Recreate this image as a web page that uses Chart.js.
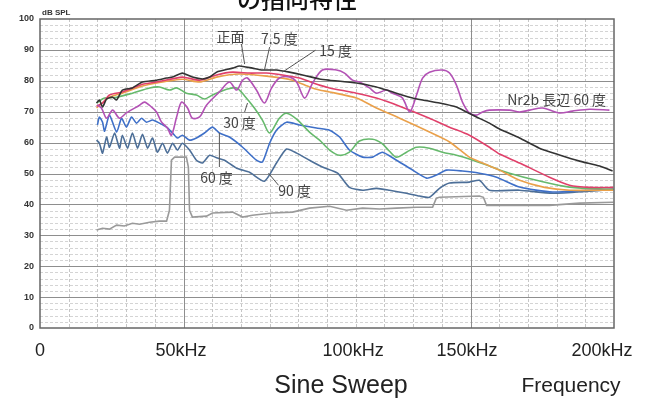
<!DOCTYPE html>
<html><head><meta charset="utf-8">
<script src="https://cdn.jsdelivr.net/npm/chart.js@4/dist/chart.umd.min.js"></script>
<style>html,body{margin:0;padding:0;background:#fff}#wrap{width:647px;height:398px}</style>
</head><body><div id="wrap"><canvas id="c" width="647" height="398"></canvas></div>
<script>
// ---- tick labels ----
const xTickValues = [0, 49.1, 109.1, 148.8, 195.8];
const xTickLabels = ['0', '50kHz', '100kHz', '150kHz', '200kHz'];
const yTickValues = [0, 10, 20, 30, 40, 50, 60, 70, 80, 90, 100];

// ---- 正面 ----
const fFront = [19.7,20.7,21.8,23.2,25.3,26.7,28.7,32.2,35.7,40.6,44.1,46.2,49.6,53.1,56.6,59.1,61.5,67.1,69.5,74.0,77.5,82.4,86.9,91.5,97.4,100.9,110.3,117.2,121.8,128.8,133.3,139.2,145.1,148.6,152.1,156.6,160.1,167.1,174.0,181.0,188.0,195.0,199.5];
const dbFront = [72.8,73.8,71.5,74.1,74.7,73.8,77.0,77.7,79.6,80.2,80.9,81.2,82.5,81.2,80.6,81.2,82.8,84.1,84.8,84.1,83.5,83.5,82.8,81.9,80.6,80.2,79.3,78.0,76.7,74.7,73.8,72.8,71.5,69.9,68.3,66.3,64.4,61.5,58.2,56.0,54.0,52.4,50.8];
// ---- 7.5度 ----
const f75 = [19.7,21.8,24.2,28.7,35.7,40.6,49.6,55.6,61.5,67.1,73.0,78.9,84.5,90.4,97.4,100.9,110.3,117.2,125.3,135.7,142.7,149.6,156.6,160.1,167.1,177.5,184.5,191.5,199.8];
const db75 = [71.8,72.8,75.4,76.4,78.9,79.6,81.2,80.2,81.9,82.8,82.5,82.5,81.9,80.9,78.6,77.7,76.0,74.4,71.8,67.9,65.0,62.4,58.5,56.3,53.4,48.8,46.2,45.5,45.5];
// ---- 15度 ----
const f15 = [19.7,24.2,28.7,35.7,40.6,49.6,55.6,61.5,69.5,78.9,88.0,93.9,97.4,100.9,110.3,117.2,125.3,135.7,142.7,149.6,154.2,160.1,167.1,175.8,184.5,199.8];
const db15 = [71.2,74.7,76.0,78.3,79.3,80.5,79.6,81.2,82.2,81.5,80.2,78.0,77.0,76.4,74.4,71.2,67.9,63.4,60.2,55.3,53.4,51.1,47.8,45.5,44.6,44.6];
// ---- 30度 ----
const f30 = [19.7,22.5,26.7,32.2,38.2,41.6,45.1,47.6,51.0,54.5,57.3,60.1,65.0,68.5,71.3,74.7,77.5,80.0,83.4,85.9,89.4,93.9,97.4,100.9,104.4,107.8,111.3,115.9,119.0,121.8,124.2,127.7,131.2,135.7,140.2,145.1,149.6,156.6,163.6,173.0,184.5,199.8];
const db30 = [72.8,74.4,74.7,76.0,77.7,78.0,77.0,77.7,76.0,75.4,74.1,75.4,77.3,77.7,75.1,71.2,67.3,63.1,67.9,69.5,67.6,63.4,60.8,57.6,55.9,56.9,60.5,61.1,59.8,57.2,55.3,56.9,58.5,58.2,56.9,55.9,54.7,52.4,50.1,47.8,45.6,44.9];
// ---- 60度 ----
const f60 = [20.0,20.7,21.8,22.5,24.2,26.7,28.4,30.1,31.9,33.6,35.4,37.1,39.2,41.6,44.1,46.2,47.9,49.6,52.1,54.5,57.3,60.1,62.5,66.0,70.6,75.4,77.5,80.0,82.4,85.9,90.4,96.3,100.9,104.4,107.8,112.4,115.9,119.3,124.2,128.8,134.7,138.1,141.6,147.2,153.1,159.1,167.1,178.6,190.4,199.8];
const db60 = [65.7,68.3,66.6,63.7,68.9,63.4,67.9,65.0,68.3,66.3,67.9,66.6,67.3,66.3,65.0,63.1,61.5,62.4,60.8,61.5,63.1,65.0,63.1,61.8,58.5,54.3,53.7,59.8,64.0,66.6,65.7,64.7,64.0,61.8,57.6,55.3,55.3,56.9,54.3,51.7,48.5,49.5,51.1,50.8,50.1,48.8,45.6,44.0,44.6,44.9];
// ---- 90度 ----
const f90 = [19.7,20.7,21.8,23.2,24.2,26.0,27.7,28.7,30.5,32.2,34.0,35.7,37.5,39.2,40.9,42.7,44.4,46.2,47.9,49.6,52.1,54.5,56.6,59.1,61.8,64.3,68.5,73.0,78.2,82.4,85.9,89.4,93.9,98.4,103.7,107.8,112.4,117.2,121.8,127.7,132.2,135.7,139.2,142.7,149.6,153.1,156.6,167.1,178.6,190.4,199.8];
const db90 = [60.8,59.8,56.6,61.8,58.5,63.1,58.2,62.4,58.2,63.1,58.2,62.7,58.2,61.5,56.9,59.8,56.6,59.8,57.6,59.8,57.6,54.3,53.4,55.9,55.0,54.3,51.7,50.4,47.5,53.4,57.9,56.6,54.3,52.1,50.1,45.5,44.6,45.2,44.6,43.6,42.7,42.3,45.2,46.9,47.2,47.8,44.6,44.6,43.6,44.2,44.9];
// ---- Nr2b 長辺 60度 ----
const fNr = [20.0,21.4,23.2,25.3,27.7,30.1,34.7,36.4,38.9,40.6,42.3,44.4,45.8,47.6,49.3,51.4,53.1,55.6,58.0,62.5,66.0,68.5,70.6,72.3,75.4,78.2,80.7,83.4,86.9,89.4,92.2,95.0,98.4,103.3,106.1,108.9,111.3,114.8,117.2,120.7,122.8,126.3,128.8,131.2,133.3,135.7,140.2,142.7,145.1,147.2,149.6,152.1,154.2,156.6,163.6,167.1,170.6,175.1,181.0,185.5,191.5,198.4];
const dbNr = [72.1,71.2,67.9,70.5,67.9,69.6,72.1,73.1,71.5,69.9,66.7,64.7,62.4,68.3,73.1,71.2,67.9,68.3,72.1,76.4,79.6,77.0,80.2,80.9,77.0,72.8,77.7,80.9,81.2,79.6,74.4,79.3,83.5,83.5,82.5,80.2,79.6,77.7,76.0,77.0,76.0,74.4,69.9,75.4,80.9,82.8,83.5,82.5,78.6,73.1,69.6,68.9,69.9,70.5,70.5,69.9,70.5,71.2,69.6,70.2,70.8,70.5];
// ---- floor (grey) ----
const fFloor = [19.7,21.8,24.2,26.7,29.4,32.2,34.7,38.2,41.6,44.1,45.1,45.8,46.9,51.0,51.7,52.1,53.1,58.0,60.1,67.1,70.6,74.0,81.0,88.0,93.9,100.9,106.8,112.4,118.3,124.2,131.2,136.8,138.1,139.2,153.1,154.5,155.6,167.1,177.5,188.0,199.8];
const dbFloor = [31.7,32.3,32.0,33.3,33.0,33.9,33.6,34.2,34.6,34.6,38.1,54.3,55.3,55.3,52.1,38.1,35.9,36.2,37.2,37.5,35.9,36.5,37.2,37.5,38.8,39.4,38.1,38.8,38.5,38.8,39.1,39.1,42.0,42.3,42.7,42.3,39.7,39.7,39.7,40.4,40.7];

// ---- annotation labels (data coords) ----
const noteTexts = ['正面', '7.5 度', '15 度', '30 度', '60 度', '90 度', 'Nr2b 長辺 60 度'];
const notePos = [[66.4,94.2],[83.4,93.5],[103.0,89.6],[69.5,66.3],[61.5,48.8],[88.7,44.3],[180.0,73.8]];
const leaderLines = [[[70.2,91.9],[71.3,85.4]],[[80.0,90.9],[78.2,83.5]],[[96.0,89.9],[84.5,82.8]],[[71.3,69.9],[72.3,72.8]],[[62.5,52.1],[62.5,63.1]],[[83.1,46.2],[79.6,50.1]]];

const pts = (f, d) => f.map((v, i) => ({x: v, y: d[i]}));
const ds = (label, f, d, color, tension) => ({label, data: pts(f, d), borderColor: color, borderWidth: 1.6, pointRadius: 0, tension: tension, fill: false});

const deco = {
  id: 'deco',
  beforeDraw(chart) {
    const c = chart.ctx; c.save(); c.fillStyle = '#fff'; c.fillRect(0, 0, chart.width, chart.height); c.restore();
  },
  beforeDatasetsDraw(chart) {
    const {ctx: c, chartArea: a, scales: {x, y}} = chart;
    const hl = (py) => { py = Math.round(py) + 0.5; c.beginPath(); c.moveTo(a.left, py); c.lineTo(a.right, py); c.stroke(); };
    const vl = (px) => { px = Math.round(px) + 0.5; c.beginPath(); c.moveTo(px, a.top); c.lineTo(px, a.bottom); c.stroke(); };
    c.save(); c.lineWidth = 1;
    c.setLineDash([3, 2]); c.strokeStyle = '#d4d4d4';
    for (let v = 2; v < 100; v += 2) { if (v % 10) hl(y.getPixelForValue(v)); }
    c.strokeStyle = '#c6c6c6';
    for (let v = 10; v < 200; v += 10) { if (v !== 50 && v !== 150) vl(x.getPixelForValue(v)); }
    c.setLineDash([]); c.strokeStyle = '#8e8e8e';
    for (let v = 10; v < 100; v += 10) hl(y.getPixelForValue(v));
    [50, 150].forEach(v => vl(x.getPixelForValue(v)));
    c.restore();
  },
  afterDatasetsDraw(chart) {
    const {ctx: c, chartArea: a, scales: {x, y}} = chart;
    c.save();
    c.strokeStyle = '#666'; c.lineWidth = 1.5;
    c.strokeRect(a.left, a.top, a.right - a.left, a.bottom - a.top);
    c.strokeStyle = '#555'; c.lineWidth = 1;
    leaderLines.forEach(([p, q]) => { c.beginPath(); c.moveTo(x.getPixelForValue(p[0]), y.getPixelForValue(p[1])); c.lineTo(x.getPixelForValue(q[0]), y.getPixelForValue(q[1])); c.stroke(); });
    c.fillStyle = '#444'; c.font = '14px "Noto Sans CJK JP"'; c.textAlign = 'center'; c.textBaseline = 'middle';
    noteTexts.forEach((t, i) => c.fillText(t, x.getPixelForValue(notePos[i][0]), y.getPixelForValue(notePos[i][1])));
    c.fillStyle = '#333'; c.font = 'bold 8px "Liberation Sans"'; c.textAlign = 'left';
    c.fillText('dB SPL', a.left + 2, 13);
    c.fillStyle = '#111'; c.font = '500 24px "Noto Sans CJK JP"'; c.textAlign = 'center'; c.textBaseline = 'bottom';
    c.fillText('の指向特性', 297, 11);
    c.fillStyle = '#222'; c.textBaseline = 'middle';
    c.font = '25px "Liberation Sans"'; c.fillText('Sine Sweep', 341, 386);
    c.font = '21px "Liberation Sans"'; c.fillText('Frequency', 571, 386);
    c.restore();
  }
};

new Chart(document.getElementById('c'), {
  type: 'line',
  data: {
    datasets: [
      ds('正面', fFront, dbFront, '#333333', 0.2),
      ds('Nr2b 長辺 60度', fNr, dbNr, '#b352b5', 0.3),
      ds('7.5度', f75, db75, '#e0406a', 0.2),
      ds('15度', f15, db15, '#eaa04a', 0.2),
      ds('30度', f30, db30, '#66b96c', 0.3),
      ds('60度', f60, db60, '#3f70c8', 0.2),
      ds('90度', f90, db90, '#4d6f98', 0.2),
      ds('floor', fFloor, dbFloor, '#9a9a9a', 0)
    ]
  },
  options: {
    responsive: false, animation: false, devicePixelRatio: 1,
    layout: {padding: {top: 19, right: 33, left: 0, bottom: 0}},
    plugins: {legend: {display: false}, tooltip: {enabled: false}, title: {display: false}},
    scales: {
      x: {
        type: 'linear', min: 0, max: 200,
        afterBuildTicks: s => { s.ticks = xTickValues.map(v => ({value: v})); },
        afterFit: s => { s.height = 70; },
        grid: {display: false, drawTicks: false}, border: {display: false},
        ticks: {autoSkip: false, maxRotation: 0, padding: 12, color: '#222', font: {family: 'Liberation Sans', size: 18},
          callback: (v, i) => xTickLabels[i]}
      },
      y: {
        min: 0, max: 100,
        afterBuildTicks: s => { s.ticks = yTickValues.map(v => ({value: v})); },
        afterFit: s => { s.width = 40; },
        grid: {display: false, drawTicks: false}, border: {display: false},
        ticks: {padding: 6, color: '#333', font: {family: 'Liberation Sans', size: 9, weight: 'bold'}}
      }
    }
  },
  plugins: [deco]
});
</script></body></html>
